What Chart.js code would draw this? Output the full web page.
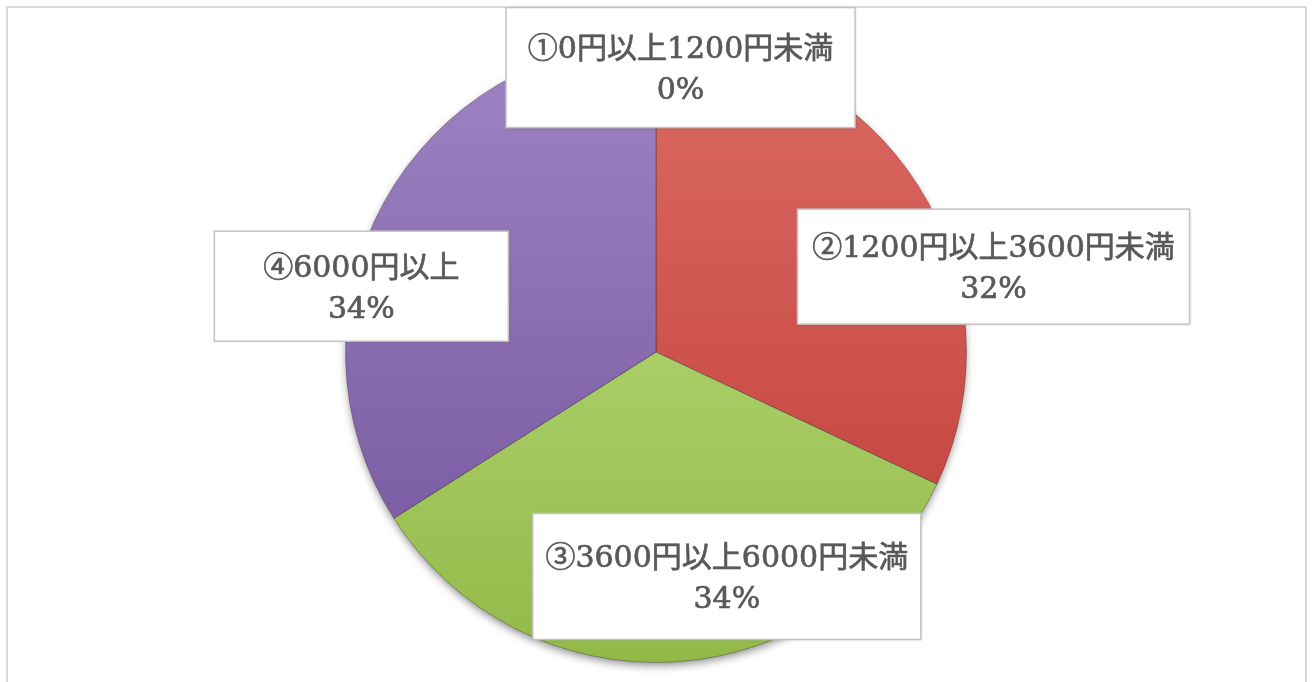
<!DOCTYPE html>
<html lang="ja">
<head>
<meta charset="utf-8">
<script src="https://cdn.jsdelivr.net/npm/chart.js@4/dist/chart.umd.min.js"></script>
<style>
  html, body { margin:0; padding:0; background:#fff; }
  #wrap { position:relative; width:1314px; height:682px; }
</style>
</head>
<body>
<div id="wrap"><canvas id="chart-pie"></canvas></div>
<script>
// ── データ ──
const labels = ['①0円以上1200円未満', '②1200円以上3600円未満', '③3600円以上6000円未満', '④6000円以上'];
const values = [0, 32, 34, 34];

// ── 色：各スライスの上端・下端（グラデーション） ──
const topColors    = ['#dddddd', '#db6b64', '#c2e387', '#9e85c4'];
const bottomColors = ['#bbbbbb', '#c13a36', '#92b948', '#72529a'];

// ラベル枠の中心位置（円の中心からの距離、半径に対する比率）と枠の大きさ
const labelPos = [
  { dx: 0.079, dy: -0.916 },
  { dx: 1.087, dy: -0.275 },
  { dx: 0.228, dy: 0.723 },
  { dx: -0.949, dy: -0.212 },
];
const boxW = [349, 392, 388, 294];
const boxH = [120, 115, 126, 110];

const FONT = "30px 'DejaVu Serif', 'Noto Sans CJK JP', serif";
const TEXT = '#595959';

// 外枠（薄いグレー）
const framePlugin = {
  id: 'frame',
  beforeDraw(chart) {
    const ctx = chart.ctx;
    ctx.save();
    ctx.strokeStyle = '#d9d9d9';
    ctx.lineWidth = 2;
    ctx.strokeRect(7, 7, chart.width - 15, chart.height + 20);
    ctx.restore();
  }
};

// 円の下の影
const shadowPlugin = {
  id: 'pieShadow',
  beforeDatasetsDraw(chart) {
    const arc = chart.getDatasetMeta(0).data[0];
    if (!arc) return;
    const ctx = chart.ctx;
    ctx.save();
    ctx.shadowColor = 'rgba(0,0,0,0.45)';
    ctx.shadowBlur = 9;
    ctx.shadowOffsetY = 4;
    ctx.fillStyle = '#888';
    ctx.beginPath();
    ctx.arc(arc.x, arc.y, arc.outerRadius - 1, 0, Math.PI * 2);
    ctx.fill();
    ctx.restore();
  }
};

// データラベル（白い枠つき）
const boxLabels = {
  id: 'boxLabels',
  afterDatasetsDraw(chart) {
    const arc = chart.getDatasetMeta(0).data[0];
    if (!arc) return;
    const ctx = chart.ctx;
    const r = arc.outerRadius;
    ctx.save();
    ctx.font = FONT;
    ctx.textAlign = 'center';
    ctx.textBaseline = 'middle';
    labels.forEach((lab, i) => {
      const cx = arc.x + labelPos[i].dx * r;
      const cy = arc.y + labelPos[i].dy * r;
      const l2 = values[i] + '%';
      const w = boxW[i], h = boxH[i];
      ctx.save();
      ctx.shadowColor = 'rgba(0,0,0,0.18)';
      ctx.shadowBlur = 3;
      ctx.shadowOffsetX = 1;
      ctx.shadowOffsetY = 1;
      ctx.fillStyle = '#fff';
      ctx.fillRect(cx - w / 2, cy - h / 2, w, h);
      ctx.restore();
      ctx.strokeStyle = '#c4c4c4';
      ctx.lineWidth = 1.5;
      ctx.strokeRect(cx - w / 2, cy - h / 2, w, h);
      // 文字をやや太く見せるため細い縁取りを重ねる
      ctx.fillStyle = TEXT;
      ctx.strokeStyle = TEXT;
      ctx.lineWidth = 0.7;
      ctx.fillText(lab, cx, cy - 17);
      ctx.strokeText(lab, cx, cy - 17);
      ctx.fillText(l2, cx, cy + 24);
      ctx.strokeText(l2, cx, cy + 24);
    });
    ctx.restore();
  }
};

// スライスごとの縦グラデーション
function sliceFill(c) {
  const chart = c.chart;
  const a = chart.chartArea;
  if (!a) return topColors[c.dataIndex];
  const g = chart.ctx.createLinearGradient(0, a.top, 0, a.bottom);
  g.addColorStop(0, topColors[c.dataIndex]);
  g.addColorStop(1, bottomColors[c.dataIndex]);
  return g;
}

new Chart(document.getElementById('chart-pie'), {
  type: 'pie',
  data: {
    labels: labels,
    datasets: [{ data: values, backgroundColor: sliceFill, borderColor: 'rgba(50,30,50,0.35)', borderWidth: 1 }]
  },
  options: {
    responsive: true,
    maintainAspectRatio: false,
    animation: false,
    layout: { padding: { top: 41, bottom: 19, left: 0, right: 2 } },
    plugins: { legend: { display: false }, tooltip: { enabled: false } }
  },
  plugins: [framePlugin, shadowPlugin, boxLabels]
});
</script>
</body>
</html>
